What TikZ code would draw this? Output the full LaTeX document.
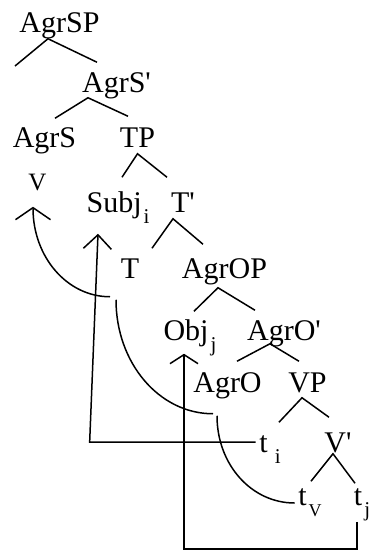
\documentclass[tikz,border=0pt]{standalone}
\usepackage{fontspec}
\setmainfont{Liberation Serif}
\usetikzlibrary{arrows.meta}
\newcommand\idx[1]{\hspace{2pt}\raisebox{-11pt}{\fontsize{21}{21}\selectfont #1}}

\begin{document}
\begin{tikzpicture}[x=1pt, y=-1pt, line width=1.5pt,
  lbl/.style={anchor=base, inner sep=0pt, text height=30pt, text depth=6pt, font=\fontsize{30}{30}\selectfont}]
  \useasboundingbox (0,0) rectangle (370,550);
  \node[lbl] (AgrSP) at (59.5,32) {AgrSP};
  \node[lbl] (AgrSbar) at (116.5,92) {AgrS\textquotesingle};
  \node[lbl] (AgrS) at (44.5,147) {AgrS};
  \node[lbl] (TP) at (137.5,147) {TP};
  \node[lbl, font=\fontsize{25}{25}\selectfont] (V) at (37.5,190) {V};
  \node[lbl] (Subj) at (118,212) {Subj\idx{i}};
  \node[lbl] (Tbar) at (183,212) {T\textquotesingle};
  \node[lbl] (T) at (130,278) {T};
  \node[lbl] (AgrOP) at (224.5,278) {AgrOP};
  \node[lbl] (Obj) at (190,340) {Obj\idx{j}};
  \node[lbl] (AgrObar) at (284,340) {AgrO\textquotesingle};
  \node[lbl] (AgrO) at (227.5,392) {AgrO};
  \node[lbl] (VP) at (307.5,392) {VP};
  \node[lbl] (ti) at (270,452) {t\hspace{5pt}\idx{i}};
  \node[lbl] (Vbar) at (338,452) {V\textquotesingle};
  \node[lbl] (tv) at (310,505) {t\idx{\fontsize{18}{18}\selectfont V}};
  \node[lbl] (tj) at (362,505) {t\idx{j}};
  \coordinate (spec) at (15,66);
  \draw (spec) -- ([shift={(-11.5,0)}]AgrSP.south) -- ([shift={(-19.5,1)}]AgrSbar.north);
  \draw ([shift={(10.5,2)}]AgrS.north) -- ([shift={(-28.5,-1)}]AgrSbar.south) -- ([shift={(-9.5,0)}]TP.north);
  \draw ([shift={(4,-4)}]Subj.north) -- (TP.south) -- ([shift={(-16,-4)}]Tbar.north);
  \draw ([shift={(22,1)}]T.north) -- ([shift={(-10,0)}]Tbar.south) -- ([shift={(-21.5,-3)}]AgrOP.north);
  \draw ([shift={(4,2)}]Obj.north) -- ([shift={(-6.5,3)}]AgrOP.south) -- ([shift={(-29,1)}]AgrObar.north);
  \draw ([shift={(9.5,0)}]AgrO.north) -- ([shift={(-14,-3)}]AgrObar.south) -- ([shift={(-8.5,0)}]VP.north);
  \draw ([shift={(9,1)}]ti.north) -- ([shift={(-5.5,-1)}]VP.south) -- ([shift={(-9,-4)}]Vbar.north);
  \draw ([shift={(1,7)}]tv.north) -- ([shift={(-5,-5)}]Vbar.south) -- ([shift={(-7,9)}]tj.north);
  \draw[-{Straight Barb[length=14pt,width=28pt]}] ([shift={(-3,2)}]ti.west) -- ++(-166,0) -- ([shift={(-20,15)}]Subj.south);
  \draw[-{Straight Barb[length=9pt,width=28pt]}] ([shift={(-5,10)}]tj.south) -- ++(0,27) -| ([shift={(-6,7)}]Obj.south);
  \draw ([shift={(-3,10)}]tv.west) .. controls +(-43,0) and +(0,49) .. ([shift={(-10.5,17)}]AgrO.south);
  \draw ([shift={(-14.5,15)}]AgrO.south) .. controls +(-54,0) and +(0,63) .. ([shift={(-14,15)}]T.south);
  \draw[-{Straight Barb[length=12pt,width=35pt]}] ([shift={(-20,12)}]T.south) .. controls +(-43,0) and +(0,50) .. ([shift={(-4.5,10)}]V.south);
\end{tikzpicture}
\end{document}
